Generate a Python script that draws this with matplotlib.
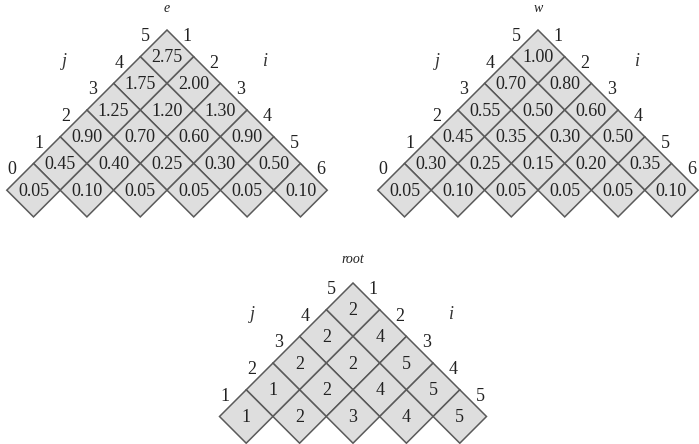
import matplotlib.pyplot as plt
from matplotlib.patches import Polygon

# table values, listed row by row from the top of each triangle
e_rows = [
    [2.75],
    [1.75, 2.00],
    [1.25, 1.20, 1.30],
    [0.90, 0.70, 0.60, 0.90],
    [0.45, 0.40, 0.25, 0.30, 0.50],
    [0.05, 0.10, 0.05, 0.05, 0.05, 0.10],
]
w_rows = [
    [1.00],
    [0.70, 0.80],
    [0.55, 0.50, 0.60],
    [0.45, 0.35, 0.30, 0.50],
    [0.30, 0.25, 0.15, 0.20, 0.35],
    [0.05, 0.10, 0.05, 0.05, 0.05, 0.10],
]
root_rows = [
    [2],
    [2, 4],
    [2, 2, 5],
    [1, 2, 4, 5],
    [1, 2, 3, 4, 5],
]

e_j_labels = [5, 4, 3, 2, 1, 0]
e_i_labels = [1, 2, 3, 4, 5, 6]
root_j_labels = [5, 4, 3, 2, 1]
root_i_labels = [1, 2, 3, 4, 5]

FILL = '#dedede'
EDGE = '#5a5a5a'
TXT = '#222222'
SERIF = ['Liberation Serif', 'DejaVu Serif']
H = 26.7  # half diagonal of a cell, in pixels


def draw_table(ax, rows, fmt, apex, j_labels, i_labels, title, title_y, ji_pos):
    ax0, ay0 = apex
    for r, row in enumerate(rows):
        for k, val in enumerate(row):
            cx = ax0 + (2 * k - r) * H
            cy = ay0 + H + r * H
            pts = [(cx, cy - H), (cx + H, cy), (cx, cy + H), (cx - H, cy)]
            ax.add_patch(Polygon(pts, closed=True, facecolor=FILL,
                                 edgecolor=EDGE, linewidth=1.1))
            ax.text(cx, cy + 1, fmt(val), ha='center', va='center',
                    fontsize=13, family=SERIF, color=TXT)
        # j label on the left edge, i label on the right edge
        lx = ax0 - r * H
        ly = ay0 + H + r * H
        ax.text(lx - H / 2 - 8, ly - H / 2 - 7, str(j_labels[r]),
                ha='center', va='center', fontsize=13, family=SERIF, color=TXT)
        rx = ax0 + r * H
        ax.text(rx + H / 2 + 7, ly - H / 2 - 7, str(i_labels[r]),
                ha='center', va='center', fontsize=13, family=SERIF, color=TXT)
    ax.text(ax0, title_y, title, ha='center', va='center', fontsize=10,
            style='italic', family=SERIF, color=TXT)
    (jx, jy), (ix, iy) = ji_pos
    ax.text(jx, jy, 'j', ha='center', va='center', fontsize=13,
            style='italic', family=SERIF, color='#333333')
    ax.text(ix, iy, 'i', ha='center', va='center', fontsize=13,
            style='italic', family=SERIF, color='#333333')


fig = plt.figure(figsize=(6.99, 4.44), dpi=100)
ax = fig.add_axes([0, 0, 1, 1])
ax.set_xlim(0, 699)
ax.set_ylim(444, 0)
ax.axis('off')

two = lambda v: f'{v:.2f}'
draw_table(ax, e_rows, two, (167, 30), e_j_labels, e_i_labels, 'e', 8,
           ((64, 62), (265, 62)))
draw_table(ax, w_rows, two, (538, 30), e_j_labels, e_i_labels, 'w', 8,
           ((437, 62), (637, 62)))
draw_table(ax, root_rows, str, (353, 283), root_j_labels, root_i_labels,
           'root', 259, ((252, 314), (452, 314)))

fig.savefig('out.png', dpi=100)
